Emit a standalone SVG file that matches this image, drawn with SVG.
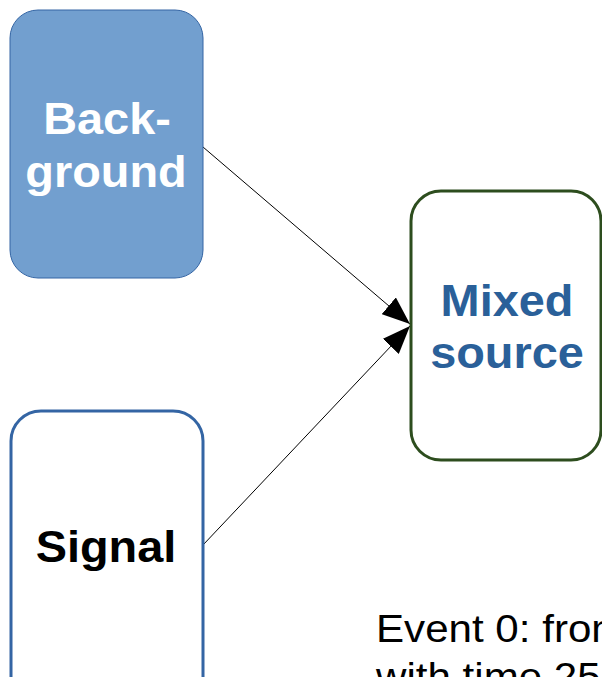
<svg xmlns="http://www.w3.org/2000/svg" width="602" height="677" viewBox="0 0 602 677">
<style>
.lbl{font-family:"Liberation Sans",Arial,sans-serif;font-weight:bold;font-size:44px;text-anchor:middle}
.note{font-family:"Liberation Sans",Arial,sans-serif;font-size:39px;fill:#000}
.conn{stroke:#000;stroke-width:1;fill:none}
</style>
<defs>
<marker id="ah" viewBox="0 0 28 22" refX="28" refY="11" markerWidth="28" markerHeight="22" markerUnits="userSpaceOnUse" orient="auto">
<path d="M0,0 L28,11 L0,22 Z" fill="#000"/>
</marker>
</defs>
<rect width="602" height="677" fill="#fff"/>
<g id="connectors">
<line class="conn" x1="203" y1="147" x2="410" y2="324" marker-end="url(#ah)"/>
<line class="conn" x1="203" y1="545" x2="410" y2="326" marker-end="url(#ah)"/>
</g>
<g id="background">
<rect x="10" y="10" width="193" height="268" rx="28" fill="#729fcf" stroke="#3465a4" stroke-width="1"/>
<text class="lbl" transform="translate(107 134) scale(1.065 1)" fill="#fff">Back-</text>
<text class="lbl" transform="translate(106 187) scale(1.065 1)" fill="#fff">ground</text>
</g>
<g id="mixed">
<rect x="411" y="191" width="190" height="269" rx="30" fill="#fff" stroke="#2d4d1e" stroke-width="3"/>
<text class="lbl" transform="translate(507 316) scale(1.065 1)" fill="#2a6099">Mixed</text>
<text class="lbl" transform="translate(507 368) scale(1.065 1)" fill="#2a6099">source</text>
</g>
<g id="signal">
<rect x="11" y="411" width="192" height="300" rx="30" fill="#fff" stroke="#3465a4" stroke-width="3"/>
<text class="lbl" transform="translate(106 562) scale(1.065 1)" fill="#000">Signal</text>
</g>
<g id="note">
<text class="note" transform="translate(376 642) scale(1.08 1)">Event 0: from</text>
<text class="note" transform="translate(376 690) scale(1.08 1)">with time 25</text>
</g>
</svg>
